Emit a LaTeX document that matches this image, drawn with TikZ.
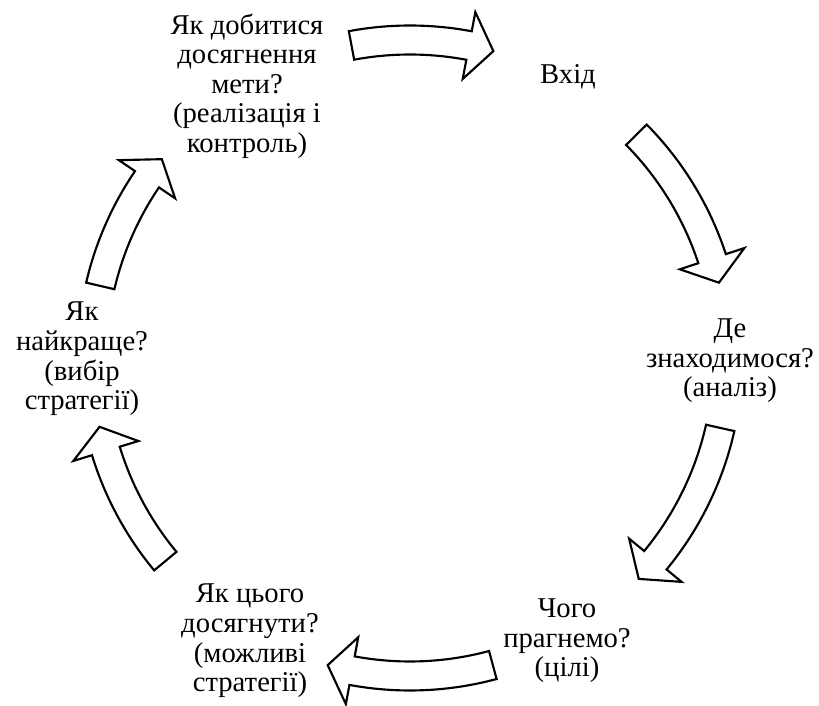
\documentclass[tikz,border=0pt]{standalone}
\usepackage{fontspec}
\setmainfont{Liberation Serif}
\newfontfamily\stagefont{Liberation Serif}

\tikzset{
  stage/.style={align=center, font=\stagefont\fontsize{21.5}{22.2}\selectfont, inner sep=0pt},
  bigarrow/.style={draw=black, line width=1.6pt, fill=white, miter limit=10},
}

\begin{document}
\begin{tikzpicture}[x=0.75pt, y=0.75pt]
        \useasboundingbox (-410,-348) rectangle (409,358);

        \node[stage] (goal) at (-163,272) {Як добитися\\досягнення\\мети?\\(реалізація і\\контроль)};
        \node[stage] (entry) at (158,281) {Вхід};
        \node[stage] (where) at (320,-3) {Де\\знаходимося?\\(аналіз)};
        \node[stage] (aim) at (157,-283) {Чого\\прагнемо?\\(цілі)};
        \node[stage] (ways) at (-160,-283) {Як цього\\досягнути?\\(можливі\\стратегії)};
        \node[stage] (best) at (-328,-1) {Як\\найкраще?\\(вибір\\стратегії)};

        % curved block arrows, tail angle / tip angle
        \foreach \a/\b in {100.6/74.8, 44.6/13.7, -12.7/-44.0,
                           -74.9/-105.0, -140.3/-167.5, 166.9/141.3}{
            \pgfmathsetmacro{\h}{\b+4.5}
            \draw[bigarrow] (\a:332.5) arc[start angle=\a, end angle=\h, radius=332.5]
                -- (\h:352) -- (\b:318) -- (\h:284) -- (\h:303.5)
                arc[start angle=\h, end angle=\a, radius=303.5] -- cycle;
        }
    \end{tikzpicture}
\end{document}
